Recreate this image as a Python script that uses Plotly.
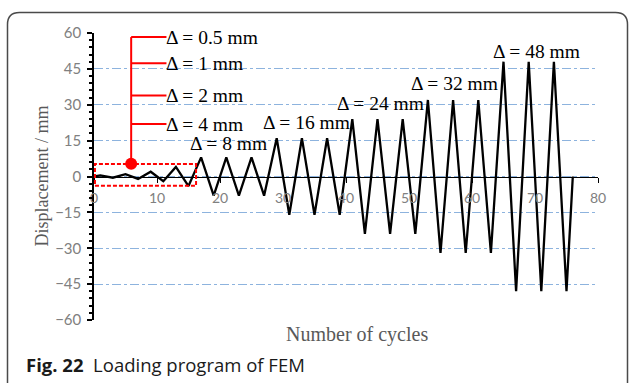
import plotly.graph_objects as go

# Loading history: cycle index at each turning point and the imposed displacement (mm)
cycle_points = [0, 1, 3, 5, 7, 9, 11, 13, 15,
                17, 19, 21, 23, 25, 27,
                29, 31, 33, 35, 37, 39,
                41, 43, 45, 47, 49, 51,
                53, 55, 57, 59, 61, 63,
                65, 67, 69, 71, 73, 75, 76]
displacement = [0, 0.5, -0.5, 1, -1, 2, -2, 4, -4,
                8, -8, 8, -8, 8, -8,
                16, -16, 16, -16, 16, -16,
                24, -24, 24, -24, 24, -24,
                32, -32, 32, -32, 32, -32,
                48, -48, 48, -48, 48, -48, 0]

# Amplitude labels for the large cycles and where they sit
big_amplitudes = ["8", "16", "24", "32", "48"]
big_label_x = [21.3, 33.7, 45.4, 57.3, 70.3]
big_label_y = [13.6, 22.4, 30.4, 38.8, 52.2]

# Amplitude labels for the small cycles (callout branches)
small_amplitudes = ["0.5", "1", "2", "4"]
small_branch_y = [58.3, 47.4, 33.9, 21.9]

# Callout anchor and zoom box around the small cycles
callout_x, callout_y = 5.9, 5.3
branch_end_x = 11.5
box_x = [0.15, 16.2]
box_y = [-3.9, 5.2]

W, H = 629, 383
ML, MR, MT, MB = 94, 31, 33, 63
PW, PH = W - ML - MR, H - MT - MB


def px_x(p):
    return (p - ML) / PW


def px_y(p):
    return (H - MB - p) / PH


def delta_label(amp):
    return f"Δ = {amp} mm"


SERIF = "Liberation Serif, Times New Roman, serif"
RED = "#ff0000"

fig = go.Figure()

fig.add_trace(go.Scatter(
    x=cycle_points, y=displacement, mode="lines",
    line=dict(color="black", width=2.3), showlegend=False, hoverinfo="skip",
))

# red callout trunk and branches
trunk_x = [callout_x, callout_x]
trunk_y = [callout_y, max(small_branch_y)]
fig.add_trace(go.Scatter(x=trunk_x, y=trunk_y, mode="lines",
                         line=dict(color=RED, width=2), showlegend=False, hoverinfo="skip"))
for yb in small_branch_y:
    fig.add_trace(go.Scatter(x=[callout_x, branch_end_x], y=[yb, yb], mode="lines",
                             line=dict(color=RED, width=2), showlegend=False, hoverinfo="skip"))
fig.add_trace(go.Scatter(x=[callout_x], y=[callout_y], mode="markers",
                         marker=dict(color=RED, size=12), showlegend=False, hoverinfo="skip"))

shapes = [
    dict(type="rect", xref="x", yref="y", x0=box_x[0], x1=box_x[1], y0=box_y[0], y1=box_y[1],
         line=dict(color=RED, width=2, dash="4px,2px"), layer="above"),
]

# rounded frame around the figure
x0, x1 = px_x(7.5), px_x(627.5)
y0, y1 = px_y(395), px_y(12.5)
rx, ry = 12 / PW, 12 / PH
frame_path = (f"M {x0},{y0} L {x0},{y1 - ry} Q {x0},{y1} {x0 + rx},{y1} "
              f"L {x1 - rx},{y1} Q {x1},{y1} {x1},{y1 - ry} L {x1},{y0}")
shapes.append(dict(type="path", xref="paper", yref="paper", path=frame_path,
                   line=dict(color="#4a4a4a", width=1.5)))

annotations = []
for amp, xl, yl in zip(big_amplitudes, big_label_x, big_label_y):
    annotations.append(dict(x=xl, y=yl, xref="x", yref="y", text=delta_label(amp),
                            showarrow=False, font=dict(family=SERIF, size=19.5, color="black"),
                            xanchor="center", yanchor="middle"))
for amp, yb in zip(small_amplitudes, small_branch_y):
    annotations.append(dict(x=branch_end_x, y=yb, xref="x", yref="y", text=delta_label(amp),
                            showarrow=False, font=dict(family=SERIF, size=19.5, color="black"),
                            xanchor="left", yanchor="middle", xshift=-2))

annotations.append(dict(x=px_x(357), y=px_y(334), xref="paper", yref="paper",
                        text="Number of cycles", showarrow=False,
                        font=dict(family=SERIF, size=20, color="#595959"),
                        xanchor="center", yanchor="middle"))
annotations.append(dict(x=px_x(41), y=0.5, xref="paper", yref="paper",
                        text="Displacement / mm", showarrow=False, textangle=-90,
                        font=dict(family=SERIF, size=18, color="#595959"),
                        xanchor="center", yanchor="middle"))
annotations.append(dict(x=px_x(24), y=px_y(364), xref="paper", yref="paper",
                        text="<b>Fig. 22</b>\u00a0\u00a0Loading program of FEM", showarrow=False,
                        font=dict(family="Open Sans, sans-serif", size=18.5, color="#1a1a1a"),
                        xanchor="left", yanchor="middle"))

fig.update_layout(
    width=W, height=H,
    margin=dict(l=ML, r=MR, t=MT, b=MB),
    paper_bgcolor="white", plot_bgcolor="white",
    shapes=shapes, annotations=annotations,
    xaxis=dict(
        range=[0, 80], dtick=10, tick0=0,
        anchor="free", position=0.5,
        showline=True, linecolor="black", linewidth=1,
        ticks="outside", ticklen=5, tickcolor="black",
        ticklabelstandoff=4,
        showgrid=False, zeroline=False,
        tickfont=dict(family="Lato, sans-serif", size=14, color="#808080"),
    ),
    yaxis=dict(
        range=[-60, 60], dtick=15, tick0=0,
        showline=True, linecolor="black", linewidth=1.5,
        ticks="outside", ticklen=5, tickcolor="black", tickwidth=1.5,
        ticklabelstandoff=3,
        minor=dict(dtick=3, ticks="outside", ticklen=3, tickcolor="black", showgrid=False),
        showgrid=True, gridcolor="#8db3de", gridwidth=1, griddash="dashdot",
        zeroline=False,
        tickfont=dict(family="Lato, sans-serif", size=15, color="#808080"),
    ),
)

fig.write_html("out.html")
